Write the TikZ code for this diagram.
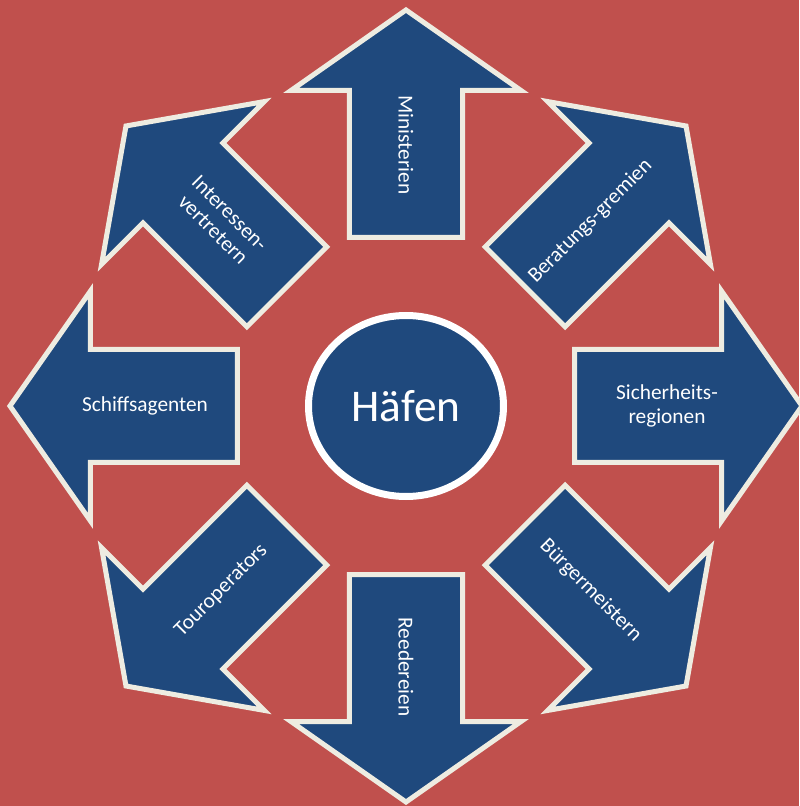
\documentclass[tikz,border=0pt]{standalone}
\usepackage{fontspec}
\setmainfont{Carlito}
\usetikzlibrary{shapes.geometric}
\definecolor{nen}{HTML}{C0504D}
\definecolor{xanh}{HTML}{1F497D}
\definecolor{kem}{HTML}{EEECE1}
\begin{document}
\begin{tikzpicture}[x=0.75pt,y=0.75pt,
	muiten/.style={fill=xanh,draw=kem,line width=3.75pt,miter limit=10},
	nhan/.style={text=white,align=center,font=\fontsize{16}{17.5}\selectfont}]
			\def\r{261} % ban kinh dat chu
			\fill[nen] (-406,-400) rectangle (393,406);
			\useasboundingbox (-406,-400) rectangle (393,406);
			% tam mui ten
			\foreach \g in {90,45,0,-45,-90,-135,180,135}
			\draw[muiten,rotate=\g-90] (-56.5,168.5) -- (-56.5,315.5) -- (-115,315.5) -- (0,396) -- (115,315.5) -- (56.5,315.5) -- (56.5,168.5) -- cycle;
			\node[ellipse,fill=xanh,draw=white,line width=5.25pt,minimum width=146.25pt,minimum height=135.75pt,inner sep=0pt,text=white,font=\fontsize{34}{40}\selectfont] (hafen) at (0,0) {Häfen};
			\foreach \g/\q/\ten/\chu in {90/-90/min/Ministerien, 45/45/berat/Beratungs-gremien, 0/0/sich/{Sicherheits-\\regionen}, -45/-45/buerg/Bürgermeistern, -90/-90/reed/Reedereien, -135/45/tour/Touroperators, 180/0/schiff/Schiffsagenten, 135/-45/inter/{Interessen-\\vertretern}}
			\node[nhan,rotate=\q] (\ten) at (\g:\r) {\chu};
		\end{tikzpicture}
\end{document}
